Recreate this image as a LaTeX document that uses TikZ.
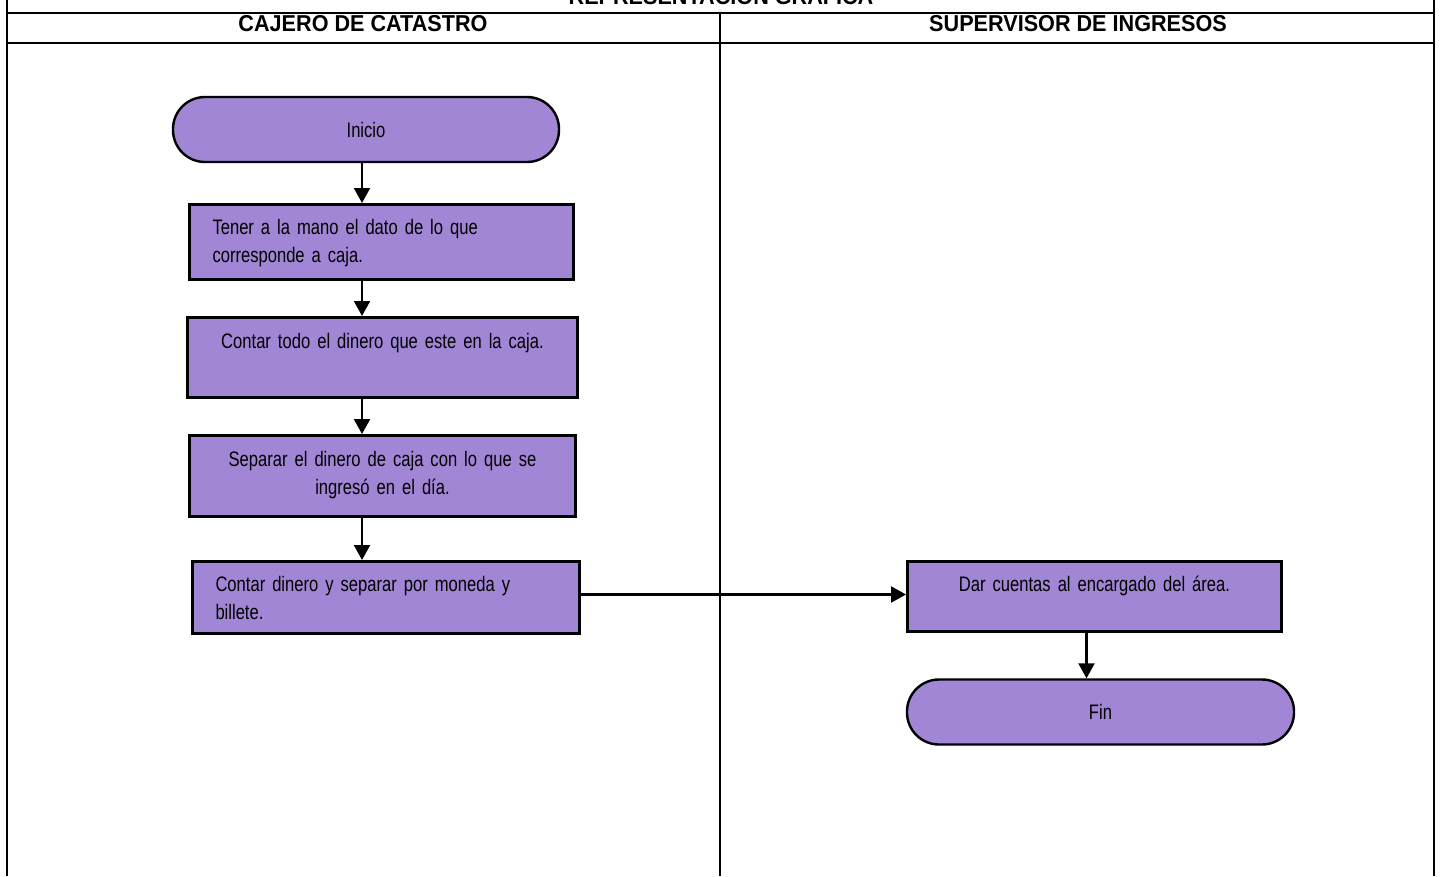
\documentclass[tikz,border=0pt]{standalone}
\usepackage{fontspec}
\setmainfont{Liberation Sans}[FakeStretch=0.79]
\newfontfamily\lanefont{Liberation Sans}[FakeStretch=0.94]
\usetikzlibrary{arrows.meta}
\definecolor{cajapurple}{RGB}{162,134,214}
\newcommand\flowfont{\fontsize{21}{28}\selectfont\spaceskip 4.8pt\relax}

\begin{document}
\begin{tikzpicture}[x=1pt,y=-1pt,font=\flowfont,
    >={Triangle[length=15pt,width=16pt]},
    lane/.style={font=\lanefont\bfseries\fontsize{23}{28}\selectfont,anchor=base,inner sep=0pt},
    stepbox/.style={draw,line width=3pt,fill=cajapurple,anchor=north west,inner ysep=0pt},
    terminal/.style={draw,line width=2.4pt,fill=cajapurple,rounded corners=32pt,minimum height=65pt,inner sep=0pt},
    flow/.style={->,line width=2.2pt}]
    \useasboundingbox (0,0) rectangle (1440,876);
    \draw[line width=2.4pt] (7,0) -- (7,876) (1434,0) -- (1434,876) (720,13) -- (720,876)
      (7,13) -- (1434,13) (7,43) -- (1434,43);
    \node[lane] (titulo) at (721,4.5) {REPRESENTACIÓN GRÁFICA};
    \node[lane] (cajero) at (363,31.7) {CAJERO DE CATASTRO};
    \node[lane] (supervisor) at (1078,31.7) {SUPERVISOR DE INGRESOS};
    \node[terminal,minimum width=386pt] (inicio) at (366,129.5) {Inicio};
    \node[stepbox,text width=338pt,inner xsep=23pt,align=left,text height=29.5pt,text depth=45.5pt]
      (tener) at (188,203) {Tener a la mano el dato de lo que\\corresponde a caja.};
    \node[stepbox,text width=360pt,inner xsep=15pt,align=center,text height=30.5pt,text depth=49.5pt]
      (contar) at (186,316) {Contar todo el dinero que este en la caja.};
    \node[stepbox,text width=356pt,inner xsep=15pt,align=center,text height=30.5pt,text depth=50.5pt]
      (separar) at (188,434) {Separar el dinero de caja con lo que se\\ingresó en el día.};
    \node[stepbox,text width=341pt,inner xsep=23pt,align=left,text height=29.5pt,text depth=42.5pt]
      (billete) at (191,560) {Contar dinero y separar por moneda y\\billete.};
    \node[stepbox,text width=344pt,inner xsep=15pt,align=center,text height=29.5pt,text depth=40.5pt]
      (cuentas) at (906,560) {Dar cuentas al encargado del área.};
    \node[terminal,minimum width=387pt] (fin) at (1100.5,712) {Fin};
    \coordinate (eje) at ([xshift=-4pt]inicio.south);
    \draw[flow] (eje) -- (eje |- tener.north);
    \draw[flow] (tener.south -| eje) -- (contar.north -| eje);
    \draw[flow] (contar.south -| eje) -- (separar.north -| eje);
    \draw[flow] (separar.south -| eje) -- (billete.north -| eje);
    \draw[flow] ([yshift=3pt]billete.east) -- ([yshift=3pt]billete.east -| cuentas.west);
    \draw[flow] ([xshift=-8pt]cuentas.south) -- ([xshift=-8pt]cuentas.south |- fin.north);
  \end{tikzpicture}
\end{document}
